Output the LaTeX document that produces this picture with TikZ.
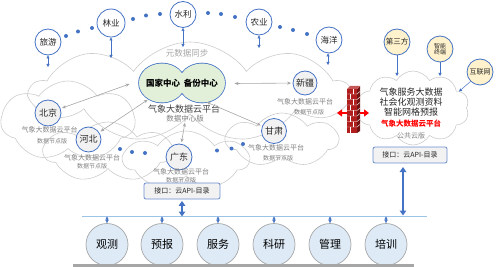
\documentclass[tikz,border=0pt]{standalone}
\usepackage{fontspec}
\setmainfont{Noto Sans CJK SC}
\usetikzlibrary{shapes.symbols,shapes.geometric,arrows.meta}
\definecolor{cblue}{HTML}{4472C4}
\definecolor{cgray}{HTML}{CCCCCC}
\definecolor{agray}{HTML}{A6A6A6}
\definecolor{tgray}{HTML}{808080}
\definecolor{lgreen}{HTML}{E2F0D9}
\definecolor{lyellow}{HTML}{FFF2CC}
\definecolor{lblue}{HTML}{DEEBF7}
\definecolor{nodegray}{HTML}{F2F2F2}
\definecolor{busblue}{HTML}{9DC3E6}
\definecolor{fwred}{HTML}{B01E1E}
\begin{document}
\begin{tikzpicture}[x=1pt,y=-1pt,
  cloudsty/.style={cloud, draw=cgray, line width=0.6pt, aspect=3, inner sep=0pt, cloud puff arc=110},
  topc/.style={circle, draw=cblue, line width=0.8pt, fill=white, minimum size=26pt, inner sep=0pt, font=\fontsize{8.5}{9}\selectfont, text=black!85},
  provc/.style={circle, draw=cblue, line width=0.8pt, fill=nodegray, minimum size=25pt, inner sep=0pt, font=\fontsize{9}{10}\selectfont, text=black!85},
  rightc/.style={circle, draw=cblue, line width=0.8pt, fill=lyellow, minimum size=26pt, inner sep=0pt, font=\fontsize{7}{7.5}\selectfont, text=black!85, align=center},
  botc/.style={circle, draw=agray, line width=0.7pt, fill=lblue, minimum size=42pt, inner sep=0pt, font=\fontsize{11}{12}\selectfont, text=black},
  lab1/.style={text=tgray, font=\fontsize{7}{8}\selectfont, inner sep=0pt},
  lab2/.style={text=tgray, font=\fontsize{6}{7}\selectfont, inner sep=0pt},
  ifbox/.style={draw=cblue!80, fill=nodegray, rounded corners=2pt, line width=0.8pt, minimum width=76pt, minimum height=16pt, inner sep=1pt, font=\fontsize{7}{8}\selectfont, text=black!85},
  garrow/.style={agray, line width=0.6pt, {Stealth[length=4pt,width=3.2pt]}-{Stealth[length=4pt,width=3.2pt]}, shorten >=1.5pt, shorten <=1.5pt},
  barrow/.style={cblue, line width=0.5pt, {Triangle[length=3pt,width=3pt]}-{Triangle[length=3pt,width=3pt]}},
  sarrow/.style={cblue, line width=0.5pt, -{Triangle[length=3pt,width=3pt]}},
  tarrow/.style={cblue, line width=2pt, {Triangle[length=5pt,width=6.5pt]}-{Triangle[length=5pt,width=6.5pt]}},
  dot/.style={cblue}
]
\useasboundingbox (0,0) rectangle (500,267);

% ---- clouds ----
\node[cloudsty, cloud puffs=9, minimum width=318pt, minimum height=100pt] (cA) at (190,92) {};
\node[cloudsty, cloud puffs=7, minimum width=134pt, minimum height=80pt] (cB) at (68,121) {};
\node[cloudsty, cloud puffs=7, minimum width=128pt, minimum height=60pt] (cC) at (108,152) {};
\node[cloudsty, cloud puffs=7, minimum width=125pt, minimum height=58pt] (cD) at (186,160) {};
\node[cloudsty, cloud puffs=7, minimum width=112pt, minimum height=54pt] (cE) at (282,140) {};
\node[cloudsty, cloud puffs=10, cloud puff arc=120, minimum width=112pt, minimum height=74pt] (cR) at (413,108) {};

\node[text=agray, font=\fontsize{8.5}{9}\selectfont] (sync) at (187,53) {元数据同步};

% ---- central green shape ----
\fill[cblue] (162,83) ellipse [x radius=23.8pt, y radius=20.3pt];
\fill[cblue] (202,83) ellipse [x radius=23.8pt, y radius=20.3pt];
\fill[lgreen] (162,83) ellipse [x radius=23pt, y radius=19.5pt];
\fill[lgreen] (202,83) ellipse [x radius=23pt, y radius=19.5pt];
\node[ellipse, minimum width=86pt, minimum height=40pt, inner sep=0pt, font=\bfseries\fontsize{8.5}{9}\selectfont] (nc) at (182,83.5) {国家中心\ \ 备份中心};
\node[text=black!75, font=\fontsize{9}{10}\selectfont, inner sep=0pt] (ncl1) at (184,109) {气象大数据云平台};
\node[text=tgray, font=\fontsize{7.5}{8}\selectfont, inner sep=0pt] (ncl2) at (185,118.5) {数据中心版};

% ---- top satellites ----
\node[topc] (ly) at (48,42) {旅游};
\node[topc, minimum size=28pt] (lyy) at (111,23) {林业};
\node[topc] (sl) at (183,14.5) {水利};
\node[topc] (ny) at (259,22) {农业};
\node[topc] (hy) at (329,40) {海洋};
\foreach \p in {(66,36),(78,31.5),(92,28),(133,19),(146,15.5),(160,14),(208,13),(221,14),(235,17),(280,27),(293,30),(307,34)}
  \fill[dot] \p circle (2pt);
\coordinate (lyE) at (48,67);
\coordinate (lyyE) at (111,58);
\coordinate (slE) at (183,47);
\coordinate (nyE) at (259,48);
\coordinate (hyE) at (328,65);
\draw[barrow] (ly.south) -- (lyE);
\draw[barrow] (lyy.south) -- (lyyE);
\draw[barrow] (sl.south) -- (slE);
\draw[barrow] (ny.south) -- (nyE);
\draw[barrow] (328,53.5) -- (hyE);

% ---- provinces ----
\node[provc, minimum size=26pt] (bj) at (48,113) {北京};
\node[lab1] (bjl1) at (49.5,130) {气象大数据云平台};
\node[lab2] (bjl2) at (52,141) {数据节点版};
\node[provc] (hb) at (88.5,139.5) {河北};
\node[lab1] (hbl1) at (92,157.5) {气象大数据云平台};
\node[lab2] (hbl2) at (92,166.5) {数据节点版};
\node[provc, minimum size=26pt] (gd) at (179,157) {广东};
\node[lab1] (gdl1) at (181,172) {气象大数据云平台};
\node[lab2] (gdl2) at (181,180) {数据节点版};
\node[provc] (gs) at (274,131) {甘肃};
\node[lab1] (gsl1) at (276,148) {气象大数据云平台};
\node[lab2] (gsl2) at (278,158) {数据节点版};
\node[provc, minimum size=24pt] (xj) at (305,83) {新疆};
\node[lab1] (xjl1) at (305,101.5) {气象大数据云平台};
\node[lab2] (xjl2) at (309,112) {数据节点版};
\foreach \p in {(120,149),(132,152),(145,153),(217,150.5),(231.5,148.5),(243,144)}
  \fill[dot] \p circle (2pt);

% ---- gray arrows ----
\draw[garrow] (nc.west) -- (bj);
\draw[garrow] (nc.205) -- (hb);
\draw[garrow] (nc.east) -- (xj);
\draw[garrow] (nc.-38) -- (gs);
\draw[garrow, shorten <=0.5pt] (ncl2.south) -- (gd);

% ---- firewall ----
\fill[fwred] (347,89) rectangle (357,133);
\fill[fwred!65!black] (357,89) -- (360,86) -- (360,131) -- (357,133) -- cycle;
\fill[fwred!75!white] (347,89) -- (350,86) -- (360,86) -- (357,89) -- cycle;
\foreach \yy in {94,99.5,105,110.5,116,121.5,127}
  \draw[white, line width=0.4pt] (347,\yy) -- (357,\yy) -- (360,\yy-2.5);
\foreach \yy [count=\i] in {89,94,99.5,105,110.5,116,121.5,127} {
  \pgfmathsetmacro{\xx}{mod(\i,2)==0 ? 350.5 : 353.5}
  \draw[white, line width=0.4pt] (\xx,\yy) -- (\xx,\yy+5.5);
}
\node[inner sep=0pt, minimum width=13pt, minimum height=47pt] (fw) at (353.5,110) {};
\coordinate (fwLt) at (337,113);
\coordinate (fwLs) at (347,113);
\coordinate (fwRt) at (369,113);
\coordinate (fwRs) at (360,113);
\draw[red, line width=1.4pt, -{Triangle[length=5pt,width=7pt]}] (fwLs) -- (fwLt);
\draw[red, line width=1.4pt, -{Triangle[length=5pt,width=7pt]}] (fwRs) -- (fwRt);

% ---- right side ----
\node[rightc, font=\fontsize{7.5}{8}\selectfont] (dsf) at (397,42) {第三方};
\node[rightc, font=\fontsize{6}{6.5}\selectfont] (zn) at (440,49) {智能\\终端};
\node[rightc, font=\fontsize{7}{7.5}\selectfont] (hlw) at (480,72) {互联网};
\coordinate (dsfE) at (397,76);
\coordinate (znE) at (440,76);
\coordinate (hlwE) at (459,91.5);
\draw[sarrow] (dsf.south) -- (dsfE);
\draw[sarrow] (zn.south) -- (znE);
\draw[sarrow] (hlw.225) -- (hlwE);
\node[align=center, font=\fontsize{9}{10}\selectfont, text=black!85, inner sep=0pt] (rct) at (411,102) {气象服务大数据\\社会化观测资料\\智能网格预报};
\node[text=red, font=\bfseries\fontsize{7.5}{8}\selectfont, inner sep=0pt] (rcr) at (411,123.5) {气象大数据云平台};
\node[text=tgray, font=\fontsize{7}{8}\selectfont, inner sep=0pt] (rcg) at (411,136) {公共云版};

% ---- interfaces ----
\node[ifbox] (ifL) at (182,191) {接口：云API-目录};
\node[ifbox, minimum width=74pt] (ifR) at (410,155) {接口：云API-目录};

% ---- bus ----
\coordinate (busL) at (82,216);
\coordinate (busR) at (427,216);
\draw[busblue, line width=0.9pt] (busL) -- (busR);
\coordinate (lB) at (182,216.5);
\coordinate (rA) at (403,167);
\coordinate (rB) at (403,215.5);
\draw[tarrow, shorten <=1.5pt] (ifL.south) -- (lB);
\draw[tarrow] (rA) -- (rB);

% ---- bottom ----
\foreach \x/\t/\n in {107/观测/b1,162/预报/b2,218/服务/b3,274/科研/b4,330/管理/b5,386/培训/b6} {
  \node[botc] (\n) at (\x,244.5) {\t};
  \coordinate (\n t) at (\x,216.5);
  \draw[barrow] (\n t) -- (\n.north);
}
\coordinate (barL) at (73,265.6);
\coordinate (barR) at (414,265.6);
\draw[agray, line width=2.6pt] (barL) -- (barR);
\end{tikzpicture}
\end{document}
